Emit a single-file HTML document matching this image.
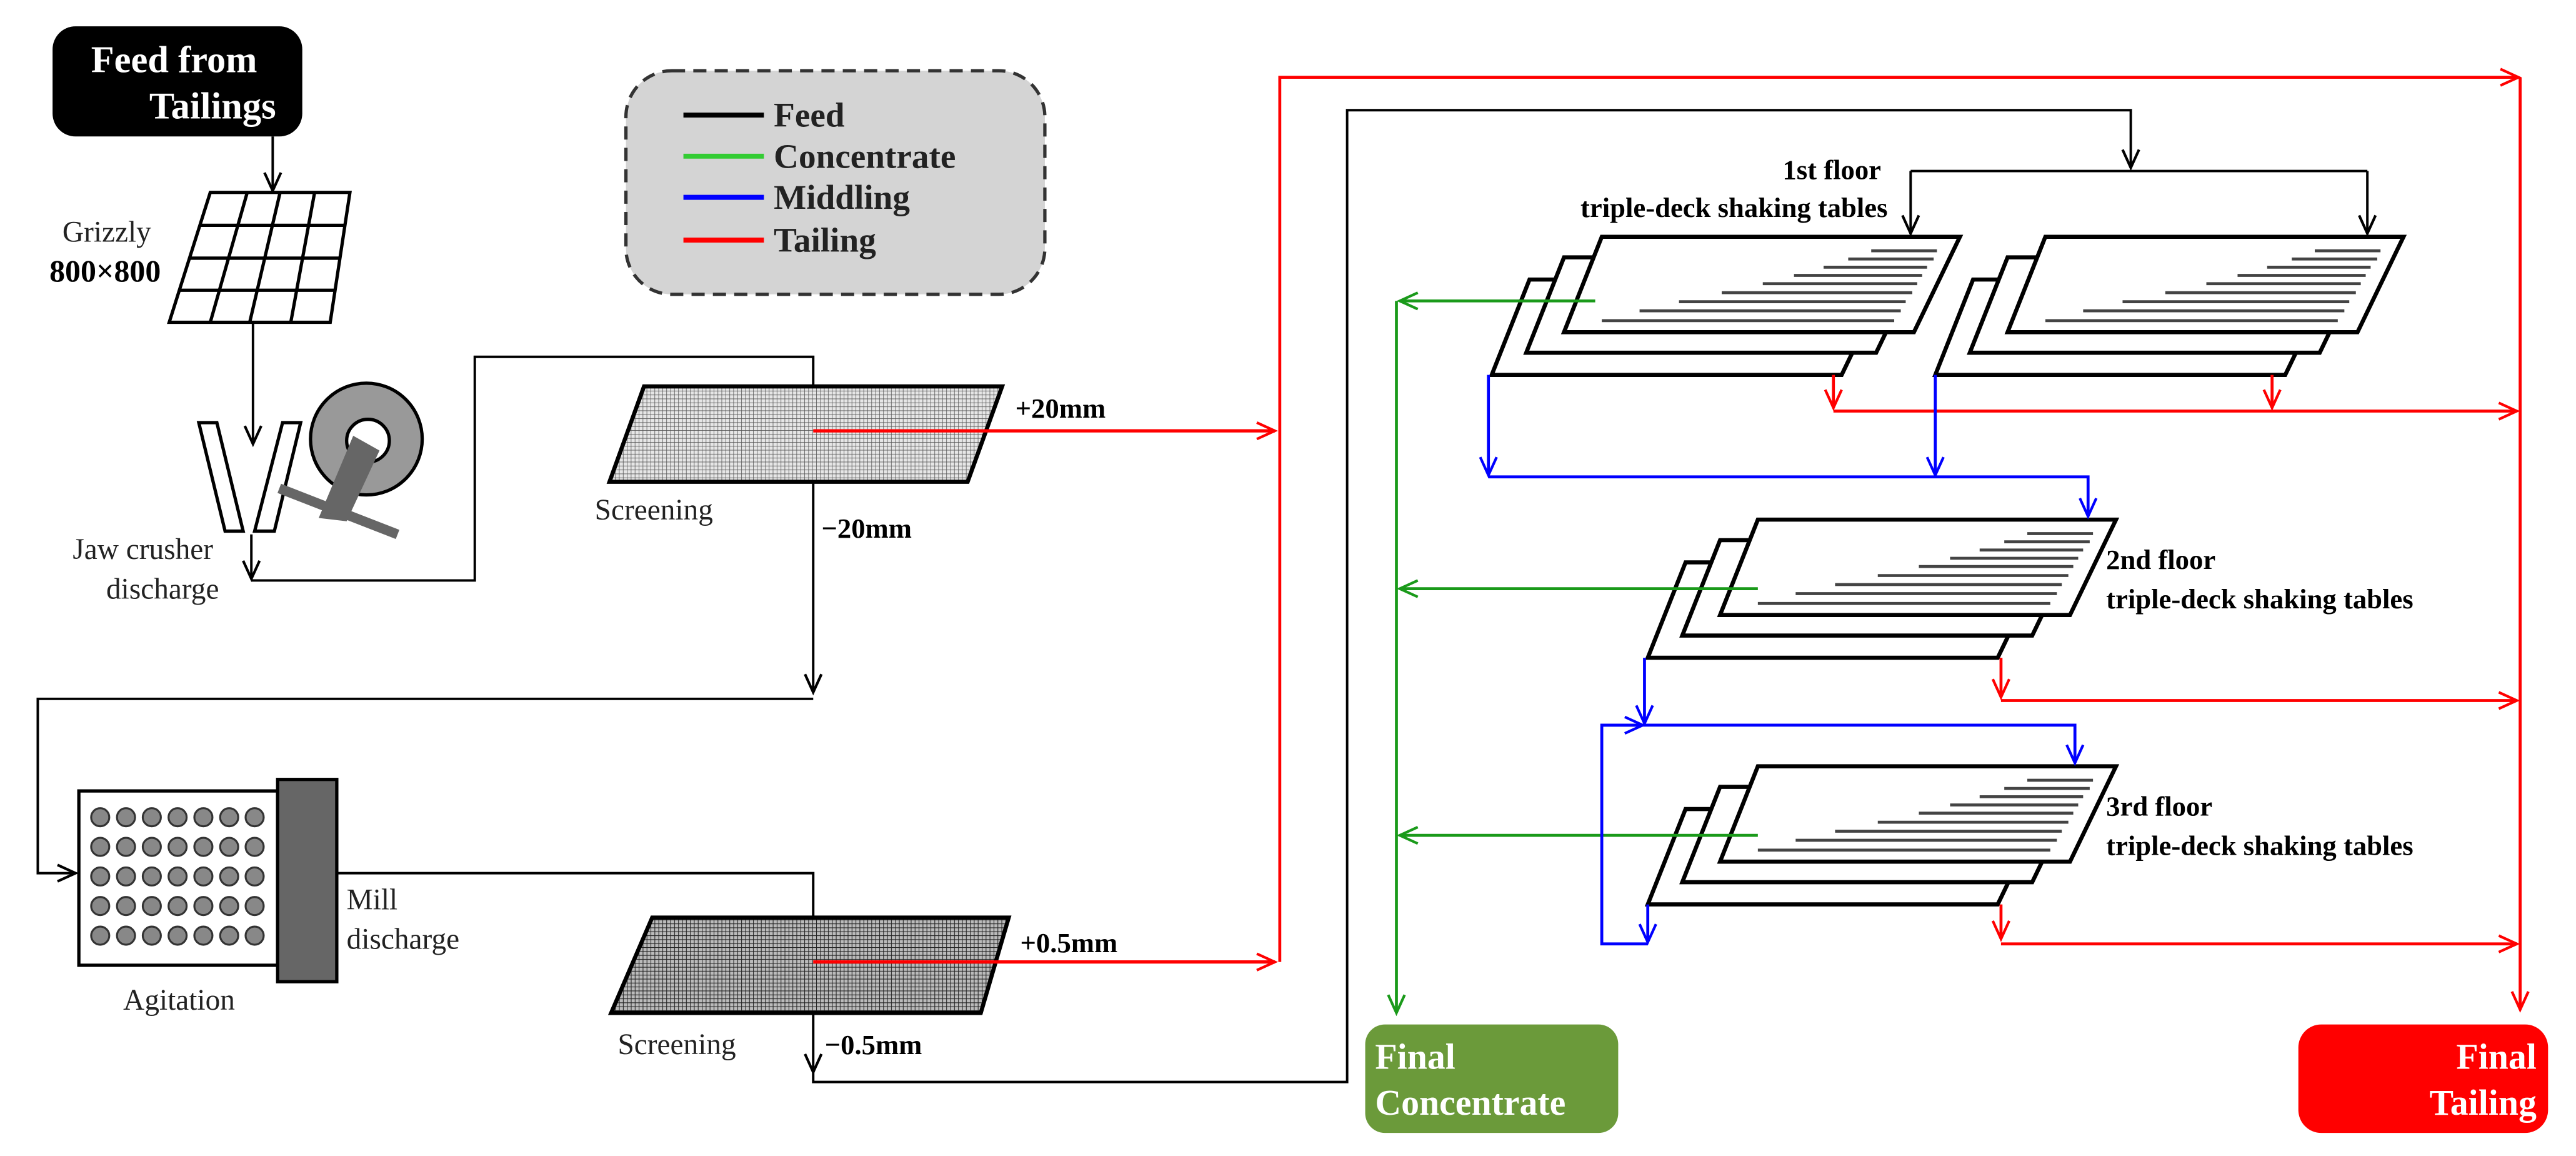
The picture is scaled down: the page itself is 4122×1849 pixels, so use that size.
<!DOCTYPE html>
<html><head><meta charset="utf-8"><style>
html,body{margin:0;padding:0;background:#fff}
svg{display:block}
svg text{font-family:"Liberation Serif","DejaVu Serif",serif !important}
</style></head><body>
<svg width="4122" height="1849" viewBox="0 0 1568 703" preserveAspectRatio="none" xmlns="http://www.w3.org/2000/svg" font-family="Liberation Serif, serif">
<defs>
<marker id="ak" markerUnits="userSpaceOnUse" markerWidth="14" markerHeight="14" refX="12" refY="6" orient="auto"><path d="M1,1 L12,6 L1,11" fill="none" stroke="#000" stroke-width="1.6"/></marker>
<marker id="ar" markerUnits="userSpaceOnUse" markerWidth="14" markerHeight="14" refX="12" refY="6" orient="auto"><path d="M1,1 L12,6 L1,11" fill="none" stroke="#f00" stroke-width="1.6"/></marker>
<marker id="ab" markerUnits="userSpaceOnUse" markerWidth="14" markerHeight="14" refX="12" refY="6" orient="auto"><path d="M1,1 L12,6 L1,11" fill="none" stroke="#00f" stroke-width="1.6"/></marker>
<marker id="ag" markerUnits="userSpaceOnUse" markerWidth="14" markerHeight="14" refX="12" refY="6" orient="auto"><path d="M1,1 L12,6 L1,11" fill="none" stroke="#1a9a1a" stroke-width="1.6"/></marker>
<pattern id="mesh1" width="2.4" height="2.4" patternUnits="userSpaceOnUse"><rect width="2.4" height="2.4" fill="#e6e6e6"/><path d="M0,0 H2.4 M0,0 V2.4" stroke="#555" stroke-width="0.6"/></pattern>
<pattern id="mesh2" width="2.4" height="2.4" patternUnits="userSpaceOnUse"><rect width="2.4" height="2.4" fill="#bbb"/><path d="M0,0 H2.4 M0,0 V2.4" stroke="#222" stroke-width="0.8"/></pattern>
<g id="table">
<polygon points="-44,26 174,26 146,84 -67,84" fill="#fff" stroke="#000" stroke-width="2.5"/>
<polygon points="-23,12.5 195,12.5 167,70.5 -46,70.5" fill="#fff" stroke="#000" stroke-width="2.5"/>
<polygon points="0,0 218,0 190,58 -23,58" fill="#fff" stroke="#000" stroke-width="2.5"/>
<g stroke="#444" stroke-width="1.8">
<line x1="164" y1="8.5" x2="204" y2="8.5"/><line x1="150" y1="13.5" x2="202" y2="13.5"/>
<line x1="135" y1="18.5" x2="198" y2="18.5"/><line x1="117" y1="23.5" x2="195" y2="23.5"/>
<line x1="98" y1="28.5" x2="192" y2="28.5"/><line x1="73" y1="34" x2="189" y2="34"/>
<line x1="47" y1="39.5" x2="185" y2="39.5"/><line x1="23" y1="45" x2="182" y2="45"/>
<line x1="0" y1="51" x2="178" y2="51"/></g>
</g>
</defs>

<!-- Feed box -->
<rect x="32" y="16" width="152" height="67" rx="14" fill="#000"/>
<text x="106" y="44" fill="#fff" font-size="23" font-weight="bold" text-anchor="middle">Feed from</text>
<text x="168" y="72" fill="#fff" font-size="23" font-weight="bold" text-anchor="end">Tailings</text>
<line x1="166" y1="83" x2="166" y2="116" stroke="#000" stroke-width="1.5" marker-end="url(#ak)"/>

<!-- Grizzly -->
<g stroke="#000" stroke-width="2" fill="#fff">
<polygon points="128,117 213,117 201,196 103,196"/>
<line x1="150.5" y1="117" x2="128" y2="196"/><line x1="170.5" y1="117" x2="152" y2="196"/><line x1="191.5" y1="117" x2="177" y2="196"/>
<line x1="121.7" y1="137" x2="210" y2="137"/><line x1="115.5" y1="157" x2="207" y2="157"/><line x1="109.2" y1="176.5" x2="204" y2="176.5"/>
</g>
<text x="65" y="147" font-size="18" text-anchor="middle" fill="#222">Grizzly</text>
<text x="64" y="171" font-size="19" font-weight="bold" text-anchor="middle">800×800</text>
<line x1="154" y1="196" x2="154" y2="270" stroke="#000" stroke-width="1.5" marker-end="url(#ak)"/>

<!-- Jaw crusher -->
<polygon points="121,257 132,257 148,323 137,323" fill="#fff" stroke="#000" stroke-width="2"/>
<polygon points="172,257 183,257 167,323 155,323" fill="#fff" stroke="#000" stroke-width="2"/>
<circle cx="223" cy="267" r="34" fill="#999" stroke="#000" stroke-width="2"/>
<circle cx="224" cy="268" r="13" fill="#fff" stroke="#000" stroke-width="2"/>
<polygon points="215,265 231,274 211,317 194,315" fill="#666"/>
<line x1="170" y1="297" x2="242" y2="325" stroke="#666" stroke-width="6"/>
<text x="87" y="340" font-size="18" text-anchor="middle" fill="#222">Jaw crusher</text>
<text x="99" y="364" font-size="18" text-anchor="middle" fill="#222">discharge</text>
<line x1="153" y1="325" x2="153" y2="352" stroke="#000" stroke-width="1.5" marker-end="url(#ak)"/>
<polyline points="153,353 289,353 289,217 495,217 495,260" fill="none" stroke="#000" stroke-width="1.5" marker-end="url(#ak)"/>

<!-- Legend -->
<rect x="381" y="43" width="255" height="136" rx="28" fill="#d4d4d4" stroke="#333" stroke-width="2" stroke-dasharray="8,5"/>
<line x1="416" y1="70" x2="465" y2="70" stroke="#000" stroke-width="3"/>
<line x1="416" y1="95" x2="465" y2="95" stroke="#3c3" stroke-width="3"/>
<line x1="416" y1="120" x2="465" y2="120" stroke="#00f" stroke-width="3"/>
<line x1="416" y1="146" x2="465" y2="146" stroke="#f00" stroke-width="3"/>
<g font-size="21" font-weight="bold" fill="#222">
<text x="471" y="77">Feed</text><text x="471" y="102">Concentrate</text><text x="471" y="127">Middling</text><text x="471" y="153">Tailing</text></g>

<!-- Screen 1 -->
<polygon points="392,235 610,235 589,293 371,293" fill="url(#mesh1)" stroke="#000" stroke-width="2.5"/>
<line x1="495" y1="262" x2="776" y2="262" stroke="#f00" stroke-width="2" marker-end="url(#ar)"/>
<text x="618" y="254" font-size="17" font-weight="bold">+20mm</text>
<text x="398" y="316" font-size="18" text-anchor="middle" fill="#222">Screening</text>
<text x="500" y="327" font-size="17" font-weight="bold">−20mm</text>
<polyline points="495,293 495,421" fill="none" stroke="#000" stroke-width="1.5" marker-end="url(#ak)"/>
<polyline points="495,425 23,425 23,531 46,531" fill="none" stroke="#000" stroke-width="1.5" marker-end="url(#ak)"/>

<!-- Agitation -->
<rect x="48" y="481" width="121" height="106" fill="#fff" stroke="#000" stroke-width="2"/>
<rect x="169" y="474" width="36" height="123" fill="#666" stroke="#000" stroke-width="2"/>
<g fill="#888" stroke="#333" stroke-width="1.2">
<g id="crow"><circle cx="61" cy="497" r="5.5"/><circle cx="76.7" cy="497" r="5.5"/><circle cx="92.4" cy="497" r="5.5"/><circle cx="108.1" cy="497" r="5.5"/><circle cx="123.8" cy="497" r="5.5"/><circle cx="139.5" cy="497" r="5.5"/><circle cx="155" cy="497" r="5.5"/></g>
<use href="#crow" y="18"/><use href="#crow" y="36"/><use href="#crow" y="54"/><use href="#crow" y="72"/>
</g>
<text x="109" y="614" font-size="18" text-anchor="middle" fill="#222">Agitation</text>
<text x="211" y="553" font-size="18" fill="#222">Mill</text>
<text x="211" y="577" font-size="18" fill="#222">discharge</text>
<polyline points="205,531 495,531 495,583" fill="none" stroke="#000" stroke-width="1.5" marker-end="url(#ak)"/>

<!-- Screen 2 -->
<polygon points="397,558 614,558 597,616 372,616" fill="url(#mesh2)" stroke="#000" stroke-width="2.5"/>
<line x1="495" y1="585" x2="776" y2="585" stroke="#f00" stroke-width="2" marker-end="url(#ar)"/>
<text x="621" y="579" font-size="17" font-weight="bold">+0.5mm</text>
<text x="412" y="641" font-size="18" text-anchor="middle" fill="#222">Screening</text>
<text x="502" y="641" font-size="17" font-weight="bold">−0.5mm</text>
<line x1="495" y1="616" x2="495" y2="652" stroke="#000" stroke-width="1.5" marker-end="url(#ak)"/>
<polyline points="495,652 495,658 820,658 820,67 1297,67 1297,102" fill="none" stroke="#000" stroke-width="1.5" marker-end="url(#ak)"/>

<!-- red main -->
<polyline points="779,585 779,47 1533,47" fill="none" stroke="#f00" stroke-width="1.8" marker-end="url(#ar)"/>
<line x1="1534" y1="47" x2="1534" y2="614" stroke="#f00" stroke-width="1.8" marker-end="url(#ar)"/>

<!-- 1st floor feed -->
<line x1="1163" y1="104" x2="1441" y2="104" stroke="#000" stroke-width="1.5"/>
<line x1="1163" y1="104" x2="1163" y2="142" stroke="#000" stroke-width="1.5" marker-end="url(#ak)"/>
<line x1="1441" y1="104" x2="1441" y2="142" stroke="#000" stroke-width="1.5" marker-end="url(#ak)"/>
<text x="1145" y="109" font-size="17" font-weight="bold" text-anchor="end">1st floor</text>
<text x="1149" y="132" font-size="17" font-weight="bold" text-anchor="end">triple-deck shaking tables</text>

<!-- tables -->
<use href="#table" x="975" y="144"/>
<use href="#table" x="1245" y="144"/>
<use href="#table" x="1070" y="316"/>
<use href="#table" x="1070" y="466"/>

<text x="1282" y="346" font-size="17" font-weight="bold">2nd floor</text>
<text x="1282" y="370" font-size="17" font-weight="bold">triple-deck shaking tables</text>
<text x="1282" y="496" font-size="17" font-weight="bold">3rd floor</text>
<text x="1282" y="520" font-size="17" font-weight="bold">triple-deck shaking tables</text>

<!-- green -->
<g stroke="#1a9a1a" stroke-width="1.8" fill="none">
<line x1="971" y1="183" x2="852" y2="183" marker-end="url(#ag)"/>
<line x1="1070" y1="358" x2="852" y2="358" marker-end="url(#ag)"/>
<line x1="1070" y1="508" x2="852" y2="508" marker-end="url(#ag)"/>
<line x1="850" y1="183" x2="850" y2="616" marker-end="url(#ag)"/>
</g>

<!-- red tails -->
<g stroke="#f00" stroke-width="1.8" fill="none">
<line x1="1116" y1="228" x2="1116" y2="248" marker-end="url(#ar)"/>
<line x1="1383" y1="228" x2="1383" y2="248" marker-end="url(#ar)"/>
<line x1="1116" y1="250" x2="1532" y2="250" marker-end="url(#ar)"/>
<line x1="1218" y1="400" x2="1218" y2="424" marker-end="url(#ar)"/>
<line x1="1218" y1="426" x2="1532" y2="426" marker-end="url(#ar)"/>
<line x1="1218" y1="550" x2="1218" y2="571" marker-end="url(#ar)"/>
<line x1="1218" y1="574" x2="1532" y2="574" marker-end="url(#ar)"/>
</g>

<!-- blue -->
<g stroke="#00f" stroke-width="1.8" fill="none">
<line x1="906" y1="228" x2="906" y2="289" marker-end="url(#ab)"/>
<line x1="1178" y1="228" x2="1178" y2="289" marker-end="url(#ab)"/>
<polyline points="906,290 1271,290 1271,314" marker-end="url(#ab)"/>
<line x1="1001" y1="400" x2="1001" y2="440" marker-end="url(#ab)"/>
<polyline points="975,441 1263,441 1263,464" marker-end="url(#ab)"/>
<line x1="1003" y1="550" x2="1003" y2="573" marker-end="url(#ab)"/>
<polyline points="1003,574 975,574 975,441 1000,441" marker-end="url(#ab)"/>
</g>

<!-- final boxes -->
<rect x="831" y="623" width="154" height="66" rx="12" fill="#6b9a3a"/>
<text x="837" y="650" font-size="22" font-weight="bold" fill="#fff">Final</text>
<text x="837" y="678" font-size="22" font-weight="bold" fill="#fff">Concentrate</text>
<rect x="1399" y="623" width="152" height="66" rx="14" fill="#f00"/>
<text x="1544" y="650" font-size="22" font-weight="bold" fill="#fff" text-anchor="end">Final</text>
<text x="1544" y="678" font-size="22" font-weight="bold" fill="#fff" text-anchor="end">Tailing</text>
</svg>
</body></html>
